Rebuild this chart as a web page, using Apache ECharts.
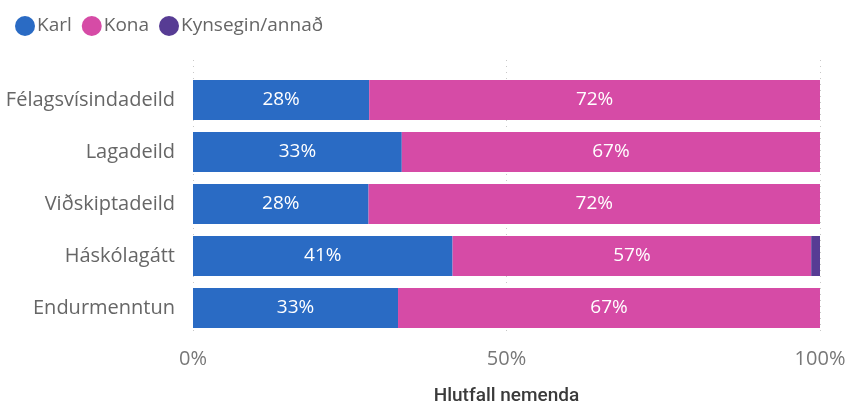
<!DOCTYPE html>
<html><head><meta charset="utf-8">
<script src="https://cdn.jsdelivr.net/npm/echarts@6/dist/echarts.min.js"></script>
<style>html,body{margin:0;padding:0;background:#fff}#c{width:850px;height:411px}</style>
</head><body><div id="c"></div>
<script>
const categories = ['Félagsvísindadeild','Lagadeild','Viðskiptadeild','Háskólagátt','Endurmenntun'];
const karl = [28.1, 33.3, 28.0, 41.4, 32.7];
const kona = [71.9, 66.7, 72.0, 57.2, 67.3];
const kynsegin = [0, 0, 0, 1.4, 0];
const xTicks = [0, 50, 100];
const seriesNames = ['Karl','Kona','Kynsegin/annað'];
const colors = ['#2A6BC4','#D64BA6','#573C94'];
const FONT = '"Open Sans", "Noto Sans", sans-serif';

const chart = echarts.init(document.getElementById('c'));
const lbl = {show:true, position:'inside', color:'#fff', fontSize:19, fontFamily:FONT,
  formatter: p => p.value >= 3 ? Math.round(p.value) + '%' : ''};
const mk = (name, data, color) => ({name, type:'bar', stack:'s', data, barWidth:40,
  xAxisIndex:0, yAxisIndex:0,
  itemStyle:{color}, label:lbl, emphasis:{disabled:true}});
chart.setOption({
  animation:false,
  color: colors,
  legend:{left:10, top:11, icon:'circle', itemWidth:20, itemHeight:20, itemGap:10,
    textStyle:{color:'#666', fontSize:19, fontFamily:FONT, padding:[0,0,0,-3]},
    data: seriesNames},
  grid:[{left:193, width:627, top:74, height:260},
        {left:193, width:627, top:60, height:286}],
  xAxis:[
    {type:'value', gridIndex:0, min:0, max:100, interval:50, show:false},
    {type:'value', gridIndex:1, min:xTicks[0], max:xTicks[2], interval:50,
     axisLine:{show:false}, axisTick:{show:false},
     splitLine:{show:true, lineStyle:{type:[1,5], color:'#c8c8c8', width:1}},
     axisLabel:{color:'#777', fontSize:20, fontFamily:FONT, margin:14,
       formatter: v => xTicks.includes(v) ? v + '%' : ''},
     name:'Hlutfall nemenda', nameLocation:'middle', nameGap:52,
     nameTextStyle:{color:'#3a3a3a', fontSize:19, fontFamily:'Roboto, sans-serif', fontWeight:500}}
  ],
  yAxis:[
    {type:'category', gridIndex:0, data:categories, inverse:true,
     axisLine:{show:false}, axisTick:{show:false},
     axisLabel:{color:'#666', fontSize:20, fontFamily:FONT, margin:18}},
    {type:'value', gridIndex:1, show:false}
  ],
  series:[mk(seriesNames[0], karl, colors[0]), mk(seriesNames[1], kona, colors[1]), mk(seriesNames[2], kynsegin, colors[2])]
});
</script></body></html>
